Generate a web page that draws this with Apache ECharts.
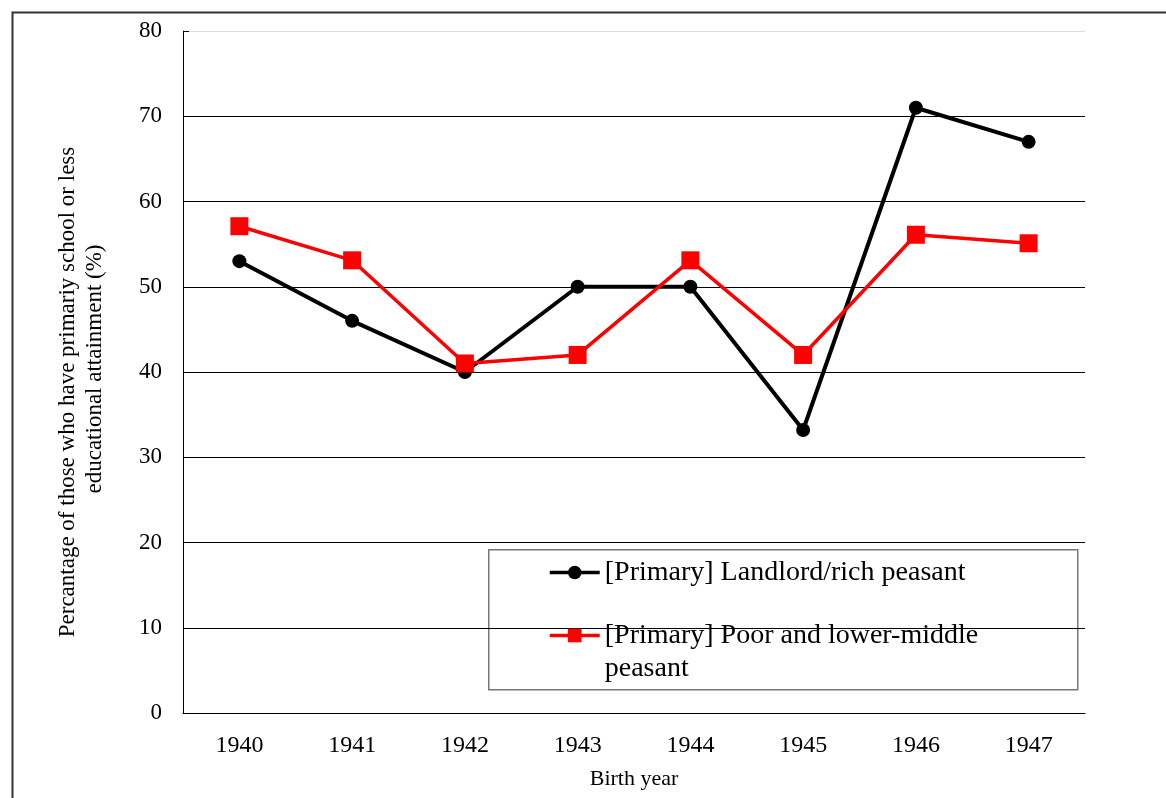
<!DOCTYPE html>
<html>
<head>
<meta charset="utf-8">
<script src="https://cdn.jsdelivr.net/npm/echarts@6/dist/echarts.min.js"></script>
<style>html,body{margin:0;padding:0;background:#fff;}#c{width:1166px;height:798px;}</style>
</head>
<body>
<div id="c"></div>
<script>
const categories = ['1940','1941','1942','1943','1944','1945','1946','1947'];
const seriesNames = ['[Primary] Landlord/rich peasant', '[Primary] Poor and lower-middle peasant'];
const landlordValues = [53, 46, 40, 50, 50, 33.2, 71, 67];
const poorValues = [57.1, 53.1, 41, 42, 53.1, 42, 56.1, 55.1];
const yAxisTitle = 'Percantage of those who have primariy school or less\n        educational attainment (%)';
const xAxisTitle = 'Birth year';

const FONT = '"Liberation Serif", "Times New Roman", serif';
const chart = echarts.init(document.getElementById('c'), null, {renderer: 'canvas'});
chart.setOption({
  backgroundColor: '#fff',
  animation: false,
  graphic: [
    {type: 'rect', left: 10, top: 10, shape: {width: 1300, height: 1000}, style: {fill: 'none', stroke: '#333', lineWidth: 2}, silent: true},
    {type: 'rect', left: 488, top: 549, z: 0, shape: {width: 589, height: 140}, style: {fill: '#fff', stroke: '#777', lineWidth: 1.5}, silent: true}
  ],
  grid: {left: 183, right: 81, top: 31, bottom: 85, containLabel: false},
  legend: {
    orient: 'vertical',
    left: 543, top: 551,
    itemWidth: 50, itemHeight: 17, itemGap: -3,
    z: 10,
    data: [seriesNames[0], seriesNames[1]],
    lineStyle: {width: 3.5},
    formatter: function (n) { return n === seriesNames[1] ? '\n[Primary] Poor and lower-middle\npeasant' : n; },
    textStyle: {fontFamily: FONT, fontSize: 28, color: '#000', lineHeight: 33}
  },
  xAxis: {
    type: 'category', data: categories, boundaryGap: true,
    name: xAxisTitle, nameLocation: 'middle', nameGap: 55,
    nameTextStyle: {fontFamily: FONT, fontSize: 22, color: '#000'},
    axisLine: {lineStyle: {color: '#000', width: 1}},
    axisTick: {inside: true, length: 6, lineStyle: {color: '#000'}},
    axisLabel: {fontFamily: FONT, fontSize: 24, color: '#000', margin: 21}
  },
  yAxis: {
    type: 'value', min: 0, max: 80, interval: 10,
    name: yAxisTitle, nameLocation: 'middle', nameGap: 75, nameRotate: 90,
    nameTextStyle: {fontFamily: FONT, fontSize: 23, color: '#000', lineHeight: 27, padding: [0, 40, 0, 0]},
    axisLine: {show: true, lineStyle: {color: '#000', width: 1}},
    axisTick: {show: true, inside: true, length: 6, lineStyle: {color: '#000'}},
    axisLabel: {fontFamily: FONT, fontSize: 23, color: '#000', margin: 21},
    splitLine: {lineStyle: {color: ['#000','#000','#000','#000','#000','#000','#000','#000','#ddd'], width: 1}}
  },
  series: [
    {
      name: seriesNames[0], type: 'line', data: landlordValues,
      symbol: 'circle', symbolSize: 14,
      lineStyle: {color: '#000', width: 4},
      itemStyle: {color: '#000'}
    },
    {
      name: seriesNames[1], type: 'line', data: poorValues,
      symbol: 'rect', symbolSize: 18,
      lineStyle: {color: '#ff0000', width: 3.5},
      itemStyle: {color: '#ff0000'}
    }
  ]
});
</script>
</body>
</html>
